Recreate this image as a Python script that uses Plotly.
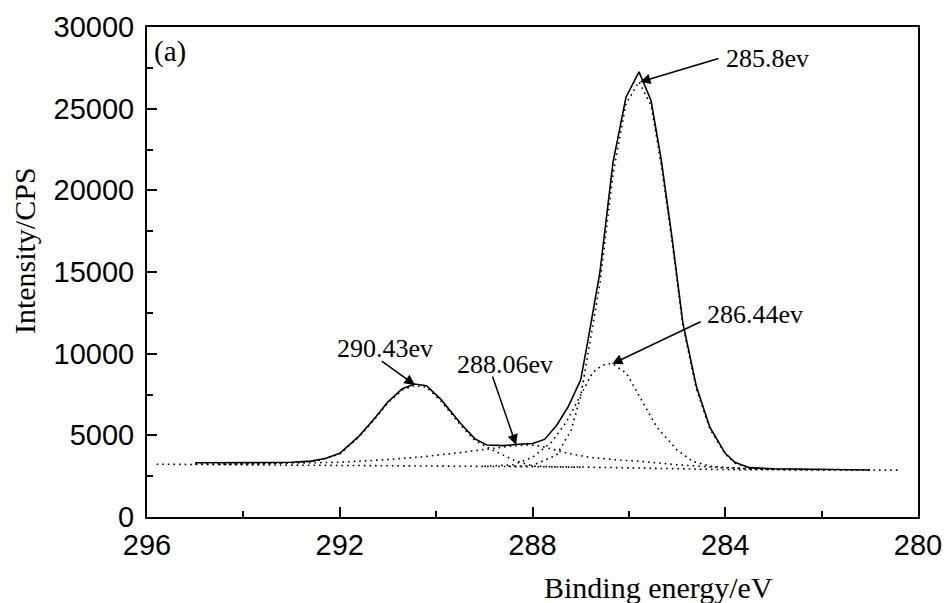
import plotly.graph_objects as go

# ---- data (binding energy in eV, intensity in CPS) ----
env_E = [295.0, 294.0, 293.0, 292.6, 292.3, 292.0, 291.6, 291.3, 291.0, 290.7, 290.45, 290.2, 289.9,
         289.5, 289.2, 288.95, 288.6, 288.3, 288.0, 287.75, 287.5, 287.25, 287.0, 286.85, 286.6,
         286.33, 286.06, 285.79, 285.54, 285.33, 285.1, 284.88, 284.6, 284.32, 284.0, 283.8, 283.5,
         283.0, 282.0, 281.0]
env_I = [3320, 3320, 3350, 3420, 3580, 3900, 4950, 5950, 7050, 7850, 8140, 8040, 7200,
         5750, 4800, 4410, 4370, 4450, 4500, 4750, 5600, 6800, 8400, 10800, 15000,
         21700, 25700, 27250, 25500, 21900, 17000, 11900, 8000, 5500, 3900, 3350, 3020,
         2950, 2900, 2880]

bg_E = [295.8, 294.0, 292.0, 290.0, 288.5, 287.0, 286.0, 285.0, 284.0, 282.0, 280.4]
bg_I = [3230, 3200, 3170, 3130, 3100, 3060, 3010, 2940, 2900, 2880, 2870]

c1_E = [295.0, 293.5, 292.5, 292.0, 291.6, 291.3, 291.0, 290.7, 290.45, 290.2, 289.9, 289.5,
        289.2, 288.8, 288.4, 288.0, 287.5, 287.0]
c1_I = [3250, 3260, 3420, 3850, 4900, 5900, 7000, 7780, 8050, 7950, 7100, 5650,
        4700, 4050, 3500, 3120, 3060, 3050]

c2_E = [294.5, 293.0, 292.0, 291.0, 290.3, 289.4, 288.8, 288.4, 288.06, 287.8, 287.3, 286.8,
        286.2, 285.8, 285.0, 284.0, 283.0, 282.0]
c2_I = [3230, 3280, 3350, 3520, 3680, 3980, 4220, 4360, 4420, 4320, 3920, 3650,
        3480, 3420, 3200, 3000, 2920, 2890]

c3_E = [289.0, 288.4, 288.0, 287.6, 287.3, 287.0, 286.75, 286.55, 286.35, 286.05, 285.77,
        285.42, 285.0, 284.67, 284.3, 283.5, 282.5]
c3_I = [3100, 3200, 3650, 4600, 5800, 7500, 8850, 9300, 9400, 8800, 7350,
        5500, 4100, 3400, 3100, 2950, 2900]

c4_E = [288.5, 288.0, 287.5, 287.2, 287.0, 286.85, 286.6, 286.33, 286.06, 285.79, 285.54,
        285.33, 285.1, 284.88, 284.6, 284.32, 284.0, 283.8, 283.5, 283.0, 282.0, 281.0]
c4_I = [3100, 3150, 3800, 5300, 7400, 9900, 14300, 21000, 25300, 26650, 25200,
        21600, 16800, 11700, 7850, 5400, 3850, 3300, 3000, 2930, 2890, 2870]

peak_labels = ["285.8ev", "286.44ev", "290.43ev", "288.06ev"]
# arrow tip (E, I), tail (E, I), text centre (E, I)
arrow_tip = [(285.77, 26630), (286.35, 9370), (290.44, 8080), (288.34, 4410)]
arrow_tail = [(284.11, 28100), (284.48, 12000), (291.16, 9610), (288.84, 8690)]
label_pos = [(283.13, 28100), (283.38, 12370), (291.06, 10290), (288.57, 9310)]

serif = "Times New Roman, Liberation Serif, serif"
sans = "Arial, Liberation Sans, sans-serif"

fig = go.Figure()
dot = dict(color="black", width=1.6, dash="1.6px,4px")
for E, I in [(bg_E, bg_I), (c1_E, c1_I), (c2_E, c2_I), (c3_E, c3_I), (c4_E, c4_I)]:
    fig.add_trace(go.Scatter(x=E, y=I, mode="lines", line=dot, showlegend=False, hoverinfo="skip"))
fig.add_trace(go.Scatter(x=env_E, y=env_I, mode="lines", line=dict(color="black", width=1.6),
                         showlegend=False))

annotations = []
for lab, tip, tail, pos in zip(peak_labels, arrow_tip, arrow_tail, label_pos):
    annotations.append(dict(x=tip[0], y=tip[1], ax=tail[0], ay=tail[1], axref="x", ayref="y",
                            xref="x", yref="y", text="", showarrow=True, arrowhead=2,
                            arrowsize=1.4, arrowwidth=1.5, arrowcolor="black"))
    annotations.append(dict(x=pos[0], y=pos[1], xref="x", yref="y", text=lab, showarrow=False,
                            xanchor="center", yanchor="middle",
                            font=dict(family=serif, size=26, color="black")))
annotations.append(dict(x=295.52, y=28470, xref="x", yref="y", text="(a)", showarrow=False,
                        xanchor="center", yanchor="middle",
                        font=dict(family=serif, size=29, color="black")))
annotations.append(dict(x=0.664, y=-0.143, xref="paper", yref="paper", text="Binding energy/eV",
                        xanchor="center", yanchor="middle",
                        showarrow=False, font=dict(family=serif, size=30, color="black")))
annotations.append(dict(x=-0.158, y=0.543, xref="paper", yref="paper", text="Intensity/CPS",
                        xanchor="center", yanchor="middle",
                        textangle=-90, showarrow=False,
                        font=dict(family=serif, size=30, color="black")))

axis_common = dict(showgrid=False, zeroline=False, showline=True, linecolor="black", linewidth=2,
                   mirror=True, ticks="inside", ticklen=10, tickwidth=2, tickcolor="black",
                   tickfont=dict(family=sans, size=29, color="black"), tickformat="d",
                   automargin=False)

fig.update_layout(
    width=944, height=603,
    margin=dict(l=147, r=26, t=27, b=86),
    paper_bgcolor="white", plot_bgcolor="white",
    xaxis=dict(range=[296, 280], tick0=280, dtick=4, ticklabelstandoff=1,
               minor=dict(dtick=2, ticks="inside", ticklen=6, tickwidth=2, tickcolor="black"),
               **axis_common),
    yaxis=dict(range=[0, 30000], tick0=0, dtick=5000, ticklabelstandoff=5,
               minor=dict(dtick=2500, ticks="inside", ticklen=6, tickwidth=2, tickcolor="black"),
               **axis_common),
    annotations=annotations,
)

fig.write_html("out.html")
